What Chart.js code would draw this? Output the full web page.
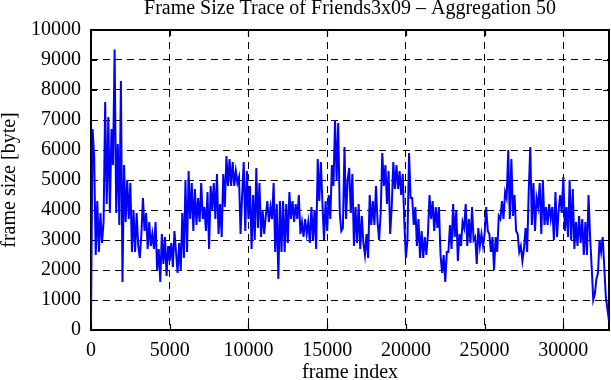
<!DOCTYPE html>
<html>
<head>
<meta charset="utf-8">
<script src="https://cdn.jsdelivr.net/npm/chart.js@4/dist/chart.umd.min.js"></script>
<style>
body { margin: 0; background: #fff; }
#wrap { width: 611px; height: 380px; }
</style>
</head>
<body>
<div id="wrap"><canvas id="chart" width="611" height="380"></canvas></div>
<script>
/* Texts and ticks */
const chartTitle = 'Frame Size Trace of Friends3x09 – Aggregation 50'
const xTitle = 'frame index'
const yTitle = 'frame size [byte]'
const xTicks = [0, 5000, 10000, 15000, 20000, 25000, 30000]
const yTicks = [0, 1000, 2000, 3000, 4000, 5000, 6000, 7000, 8000, 9000, 10000]

/* Trace, one value every frameStep frames */
const frameStep = 100
const frameSize = [
	300, 6700, 5800, 2500, 4300, 2600, 3900, 2900, 3600, 7600,
	4200, 7100, 3900, 6700, 5500, 9350, 3900, 6200, 3500, 8300,
	1600, 5500, 3600, 5000, 3700, 4900, 2600, 4000, 2600, 3900,
	2800, 2400, 3200, 4400, 3300, 3900, 2700, 3600, 2800, 3200,
	2700, 3600, 2000, 2700, 1600, 3200, 2200, 3100, 1800, 2800,
	2300, 2900, 2100, 3300, 2600, 1900, 2900, 2000, 3900, 2400,
	5000, 2600, 5300, 3700, 4900, 3300, 4700, 3500, 4400, 3600,
	4900, 3700, 4100, 3300, 4600, 2700, 4800, 4000, 4900, 3700,
	5200, 3200, 4200, 3100, 5200, 4100, 5800, 4800, 5700, 4800,
	5600, 4800, 5300, 4900, 5100, 3200, 4500, 5600, 3300, 5300,
	3700, 4800, 2700, 4500, 3000, 5400, 3400, 4900, 3100, 4000,
	3200, 3800, 4300, 3600, 4100, 3700, 4900, 2600, 4200, 1700,
	4300, 2600, 4300, 2600, 4200, 2900, 4600, 3700, 4300, 3600,
	4200, 3700, 4500, 3200, 3600, 3100, 3700, 3200, 3600, 2900,
	4100, 3000, 4000, 2700, 5700, 4300, 5600, 4200, 3000, 4300,
	3300, 4500, 3700, 5500, 4800, 7000, 5000, 6900, 3900, 3300,
	3400, 6100, 3700, 5000, 5400, 3900, 5200, 2800, 4100, 2900,
	4200, 2700, 3800, 2900, 2500, 3200, 2400, 4500, 3500, 4300,
	3500, 4800, 3600, 3000, 3900, 5900, 4800, 5500, 4200, 5300,
	3200, 4100, 5600, 4700, 5500, 4700, 5300, 4500, 5200, 3600,
	2400, 3000, 5900, 4400, 4400, 3500, 4100, 2800, 3700, 2400,
	3300, 2400, 3100, 2500, 3200, 4500, 3700, 4300, 3300, 4100,
	3400, 4100, 2500, 1900, 2500, 1600, 2600, 2600, 3500, 2700,
	4200, 3100, 4000, 2300, 3200, 2800, 3600, 3400, 4200, 2800,
	3700, 2900, 4100, 3000, 3100, 2200, 3400, 2800, 3200, 2800,
	3200, 4100, 3300, 3200, 2600, 3100, 2000, 3100, 2600, 3800,
	3700, 4300, 3700, 4600, 4400, 6000, 3700, 5700, 3800, 4500,
	3300, 3200, 2600, 2800, 2300, 2700, 3400, 2600, 4600, 6100,
	3500, 4900, 3300, 4400, 4100, 4900, 3200, 5000, 3500, 4100,
	3500, 4200, 3700, 4100, 3000, 4600, 3100, 4000, 4500, 3900,
	5100, 3300, 4100, 3100, 5000, 3000, 4700, 2700, 3600, 2800,
	3800, 2900, 3700, 2500, 3600, 2500, 4500, 3100, 2100, 1000,
	1200, 1700, 1900, 3000, 2600, 3100, 2100, 1100, 700, 300
]

const fontFamily = '"Liberation Serif", "Times New Roman", serif'
Chart.defaults.font.family = fontFamily
Chart.defaults.color = '#000'

// gnuplot style frame with inward ticks on all four sides
const gnuFrame = {
	id: 'gnuFrame',
	beforeDatasetsDraw(chart) {
		const { ctx, chartArea: a, scales: { x, y } } = chart
		const tick = 6
		ctx.save()
		ctx.strokeStyle = '#000'
		ctx.lineWidth = 1.2
		ctx.beginPath()
		xTicks.forEach((v) => {
			const px = Math.round(x.getPixelForValue(v)) + 0.5
			ctx.moveTo(px, a.top); ctx.lineTo(px, a.top + tick)
			ctx.moveTo(px, a.bottom); ctx.lineTo(px, a.bottom - tick)
		})
		yTicks.forEach((v) => {
			const py = Math.round(y.getPixelForValue(v)) + 0.5
			ctx.moveTo(a.left, py); ctx.lineTo(a.left + tick, py)
			ctx.moveTo(a.right, py); ctx.lineTo(a.right - tick, py)
		})
		ctx.stroke()
		ctx.lineWidth = 2
		ctx.strokeRect(a.left, a.top, a.right - a.left, a.bottom - a.top)
		ctx.restore()
	}
}

const plainLabel = (v) => String(v)

new Chart('chart', {
	type: 'line',
	data: {
		datasets: [
			{
				data: frameSize.map((v, i) => ({ x: i * frameStep, y: v })),
				borderColor: '#0000ff',
				borderWidth: 2,
				pointRadius: 0,
				fill: false,
				tension: 0
			}
		]
	},
	options: {
		responsive: false,
		maintainAspectRatio: false,
		devicePixelRatio: 1,
		animation: false,
		layout: { padding: { left: 0, right: 2, top: 0, bottom: 0 } },
		plugins: {
			legend: { display: false },
			tooltip: { enabled: false },
			title: {
				display: true,
				text: chartTitle,
				fullSize: false,
				font: { size: 20, weight: 'normal', lineHeight: 0.85 },
				padding: { top: 0, bottom: 13 }
			}
		},
		scales: {
			x: {
				type: 'linear',
				min: 0,
				max: (frameSize.length - 1) * frameStep,
				afterBuildTicks: (scale) => { scale.ticks = xTicks.map((v) => ({ value: v })) },
				afterFit: (scale) => { scale.height = 50 },
				ticks: { padding: 9, font: { size: 20 }, maxRotation: 0, callback: plainLabel },
				grid: { color: '#000', lineWidth: 1, drawTicks: false },
				border: { display: false, dash: [7, 5] },
				title: {
					display: true,
					text: xTitle,
					font: { size: 20, lineHeight: 0.7 },
					padding: { top: 0, bottom: 0 }
				}
			},
			y: {
				min: 0,
				max: 10000,
				afterBuildTicks: (scale) => { scale.ticks = yTicks.map((v) => ({ value: v })) },
				afterFit: (scale) => { scale.width = 91 },
				ticks: { padding: 10, font: { size: 20 }, callback: plainLabel },
				grid: { color: '#000', lineWidth: 1, drawTicks: false },
				border: { display: false, dash: [7, 5] },
				title: {
					display: true,
					text: yTitle,
					font: { size: 20, lineHeight: 1 },
					padding: { top: 0, bottom: 0 }
				}
			}
		}
	},
	plugins: [gnuFrame]
})
</script>
</body>
</html>
